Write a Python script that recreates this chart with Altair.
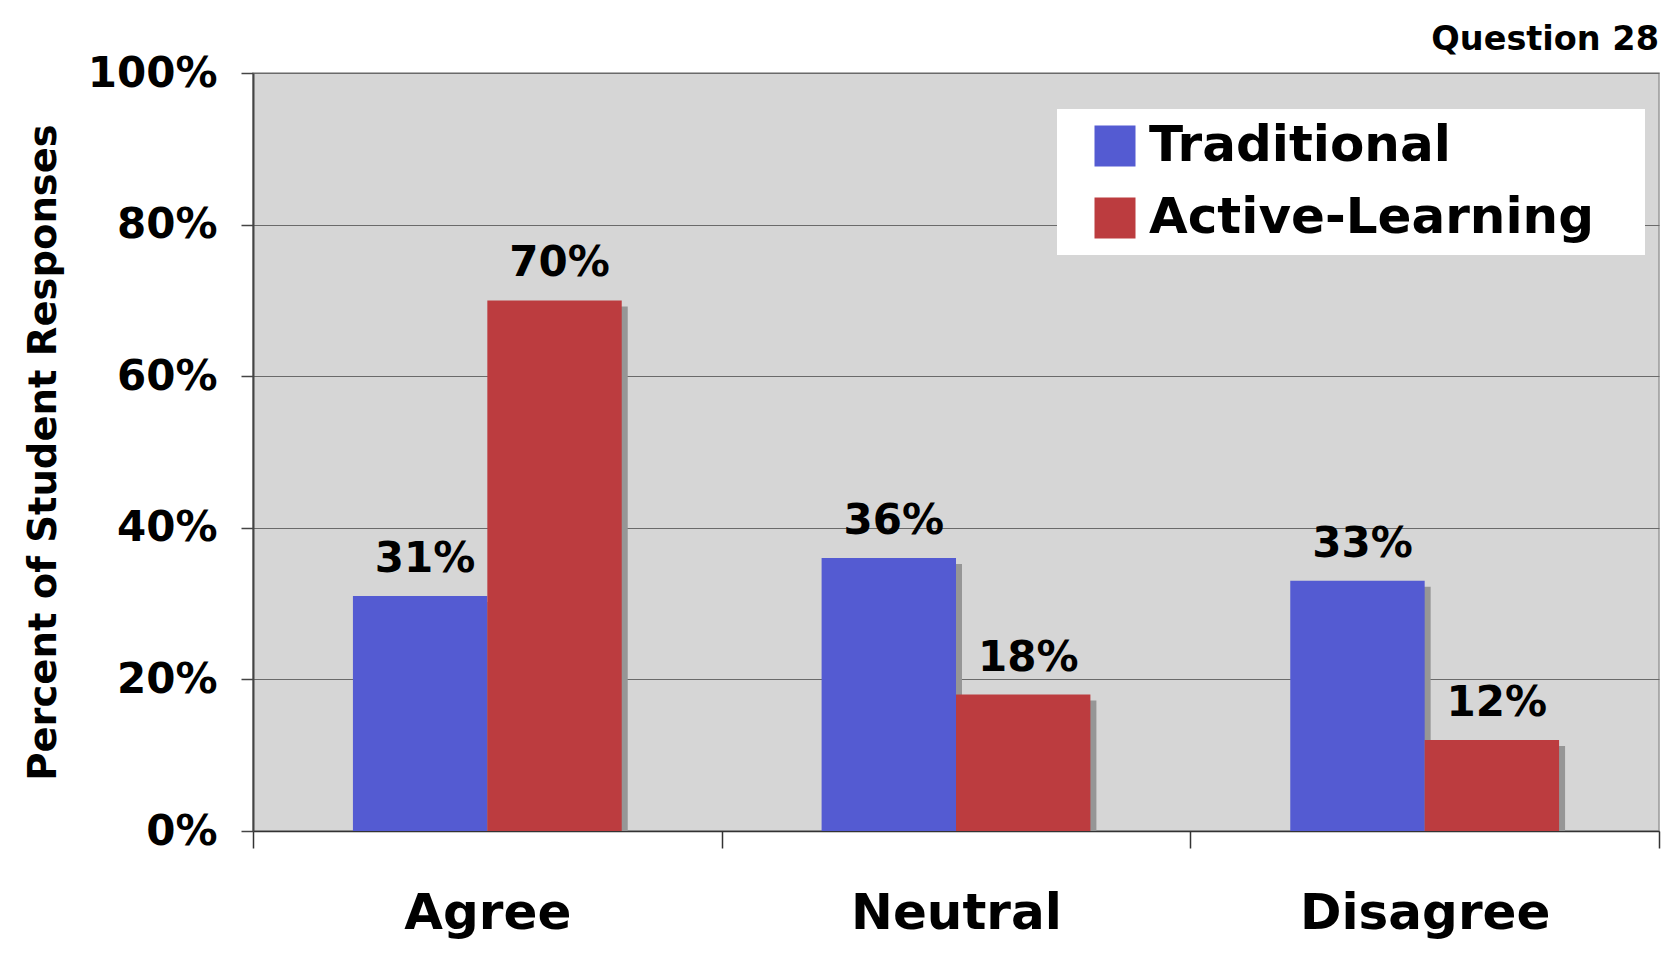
import altair as alt
import pandas as pd

categories = ["Agree", "Neutral", "Disagree"]
series = ["Traditional", "Active-Learning"]
traditional = [31, 36, 33]
active = [70, 18, 12]
y_ticks = [0, 20, 40, 60, 80, 100]
colors = ["#545bd2", "#bc3c3f"]

rows = []
for i, c in enumerate(categories):
    rows.append({"category": c, "series": series[0], "value": traditional[i]})
    rows.append({"category": c, "series": series[1], "value": active[i]})
df = pd.DataFrame(rows)

FONT = "DejaVu Sans"

x = alt.X(
    "category:N",
    sort=categories,
    scale=alt.Scale(paddingInner=0, paddingOuter=0),
    axis=alt.Axis(
        title=None, labelFont=FONT, labelFontWeight="bold", labelFontSize=50,
        labelColor="black", labelAngle=0, labelPadding=40, labelLimit=0, tickSize=17,
        tickBand="extent", tickColor="#333", tickWidth=1.5,
        domainColor="#333", domainWidth=1.5,
    ),
)
y = alt.Y(
    "value:Q",
    scale=alt.Scale(domain=[0, 100]),
    axis=alt.Axis(
        values=y_ticks, labelExpr="datum.value + '%'",
        title="Percent of Student Responses", titleFont=FONT, titleFontWeight="bold",
        titleFontSize=38.5, titleColor="black", titlePadding=24,
        labelFont=FONT, labelFontWeight="bold", labelFontSize=42, labelColor="black",
        labelPadding=24, labelLimit=0, tickSize=12, tickColor="#444", tickWidth=1.5,
        domainColor="#444", domainWidth=2,
        grid=True, gridColor="#6a6a6a", gridWidth=1.2,
    ),
)

xo_bars = alt.XOffset("series:N", sort=series,
                      scale=alt.Scale(type="band", paddingOuter=0.7435, paddingInner=0))
xo_shadow = alt.XOffset("series:N", sort=series,
                        scale=alt.Scale(type="band", paddingOuter=0.7435, paddingInner=0, align=0.53))

base = alt.Chart(df)

shadow = base.mark_bar(color="#969696", yOffset=6, clip=True).encode(
    x=x, y=y, xOffset=xo_shadow
)

bars = base.mark_bar().encode(
    x=x, y=y, xOffset=xo_bars,
    color=alt.Color(
        "series:N", sort=series,
        scale=alt.Scale(domain=series, range=colors),
        legend=alt.Legend(
            title=None, orient="none", legendX=804, legendY=36,
            fillColor="white", padding=12, symbolOffset=21,
            symbolType="square", symbolSize=1681, symbolStrokeWidth=0,
            symbolOpacity=1, labelLimit=0,
            labelFont=FONT, labelFontSize=50, labelFontWeight="bold",
            labelColor="black", labelOffset=9, rowPadding=22,
            labelExpr="datum.label + '\u2800'",
        ),
    ),
)

labels = base.mark_text(
    font=FONT, fontWeight="bold", fontSize=42, baseline="alphabetic",
    dy=-24, dx=5, color="black",
).transform_calculate(label="datum.value + '%'").encode(
    x=x, y=y, xOffset=xo_bars, text=alt.Text("label:N")
)

chart = (
    alt.layer(shadow, bars, labels)
    .resolve_scale(xOffset="independent")
    .properties(
        width=1406, height=758,
        autosize=alt.AutoSizeParams(type="none"),
        padding={"left": 245, "top": 65, "right": 10, "bottom": 130},
        title=alt.Title(
            "Question 28", anchor="end", frame="group", font=FONT, fontSize=33.5,
            fontWeight="bold", color="black", baseline="alphabetic", offset=-31,
        ),
    )
    .configure(background="white")
    .configure_view(fill="#d6d6d6", stroke="#999999", strokeWidth=1.5)
)

chart.save("out.html", embed_options={"renderer": "svg", "actions": False})
